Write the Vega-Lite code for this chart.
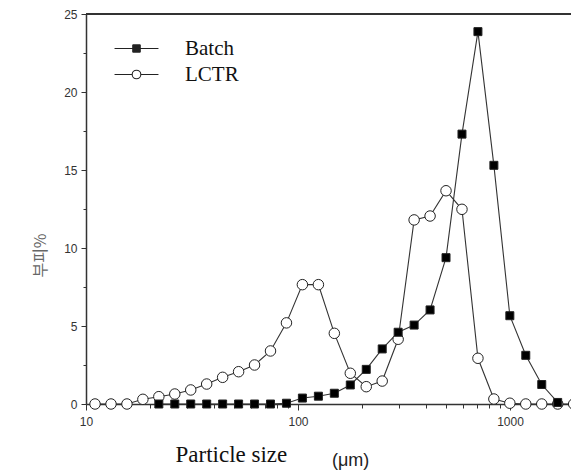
{
  "$schema": "https://vega.github.io/schema/vega-lite/v6.json",
  "width": 485,
  "height": 390,
  "autosize": {"type": "none"},
  "padding": {"left": 86, "top": 14, "right": 0, "bottom": 66},
  "background": "white",
  "config": {
    "view": {"stroke": null},
    "axis": {
      "domainColor": "#333",
      "domainWidth": 1.5,
      "tickColor": "#333",
      "tickWidth": 1,
      "labelFont": "Liberation Sans",
      "labelFontSize": 12,
      "labelColor": "#333",
      "grid": false
    }
  },
  "title": {
    "text": "(μm)",
    "orient": "bottom",
    "anchor": "start",
    "frame": "group",
    "dx": 246,
    "offset": -14,
    "font": "Liberation Sans",
    "fontSize": 18,
    "fontWeight": "normal",
    "color": "#222"
  },
  "data": {
    "values": [
      {"series": "LCTR", "size": 11.03, "pct": 0},
      {"series": "LCTR", "size": 13.12, "pct": 0},
      {"series": "LCTR", "size": 15.6, "pct": 0},
      {"series": "LCTR", "size": 18.55, "pct": 0.3},
      {"series": "LCTR", "size": 22.06, "pct": 0.47},
      {"series": "LCTR", "size": 26.23, "pct": 0.64},
      {"series": "LCTR", "size": 31.19, "pct": 0.9},
      {"series": "LCTR", "size": 37.09, "pct": 1.28},
      {"series": "LCTR", "size": 44.11, "pct": 1.71},
      {"series": "LCTR", "size": 52.46, "pct": 2.07},
      {"series": "LCTR", "size": 62.38, "pct": 2.5},
      {"series": "LCTR", "size": 74.18, "pct": 3.4},
      {"series": "LCTR", "size": 88.22, "pct": 5.2},
      {"series": "LCTR", "size": 104.9, "pct": 7.65},
      {"series": "LCTR", "size": 124.8, "pct": 7.65},
      {"series": "LCTR", "size": 148.4, "pct": 4.53},
      {"series": "LCTR", "size": 176.5, "pct": 1.97},
      {"series": "LCTR", "size": 209.9, "pct": 1.11},
      {"series": "LCTR", "size": 249.6, "pct": 1.47},
      {"series": "LCTR", "size": 296.8, "pct": 4.15},
      {"series": "LCTR", "size": 353.0, "pct": 11.8},
      {"series": "LCTR", "size": 419.8, "pct": 12.05},
      {"series": "LCTR", "size": 499.2, "pct": 13.67},
      {"series": "LCTR", "size": 593.6, "pct": 12.48},
      {"series": "LCTR", "size": 706.0, "pct": 2.93},
      {"series": "LCTR", "size": 839.5, "pct": 0.32},
      {"series": "LCTR", "size": 998.4, "pct": 0.05},
      {"series": "LCTR", "size": 1187, "pct": 0},
      {"series": "LCTR", "size": 1412, "pct": 0},
      {"series": "LCTR", "size": 1679, "pct": 0},
      {"series": "LCTR", "size": 1997, "pct": 0},
      {"series": "Batch", "size": 22.06, "pct": 0},
      {"series": "Batch", "size": 26.23, "pct": 0},
      {"series": "Batch", "size": 31.19, "pct": 0},
      {"series": "Batch", "size": 37.09, "pct": 0},
      {"series": "Batch", "size": 44.11, "pct": 0},
      {"series": "Batch", "size": 52.46, "pct": 0},
      {"series": "Batch", "size": 62.38, "pct": 0},
      {"series": "Batch", "size": 74.18, "pct": 0},
      {"series": "Batch", "size": 88.22, "pct": 0.05},
      {"series": "Batch", "size": 104.9, "pct": 0.38},
      {"series": "Batch", "size": 124.8, "pct": 0.5},
      {"series": "Batch", "size": 148.4, "pct": 0.69},
      {"series": "Batch", "size": 176.5, "pct": 1.22},
      {"series": "Batch", "size": 209.9, "pct": 2.22},
      {"series": "Batch", "size": 249.6, "pct": 3.53},
      {"series": "Batch", "size": 296.8, "pct": 4.6},
      {"series": "Batch", "size": 353.0, "pct": 5.06},
      {"series": "Batch", "size": 419.8, "pct": 6.03},
      {"series": "Batch", "size": 499.2, "pct": 9.38},
      {"series": "Batch", "size": 593.6, "pct": 17.3},
      {"series": "Batch", "size": 706.0, "pct": 23.87},
      {"series": "Batch", "size": 839.5, "pct": 15.3},
      {"series": "Batch", "size": 998.4, "pct": 5.66},
      {"series": "Batch", "size": 1187, "pct": 3.12},
      {"series": "Batch", "size": 1412, "pct": 1.25},
      {"series": "Batch", "size": 1679, "pct": 0.1}
    ]
  },
  "encoding": {
    "x": {
      "field": "size",
      "type": "quantitative",
      "scale": {"type": "log", "domain": [10, 1940], "nice": false},
      "axis": {
        "values": [10, 20, 30, 40, 50, 60, 70, 80, 90, 100, 200, 300, 400, 500, 600, 700, 800, 900, 1000],
        "labelExpr": "(datum.value == 10 || datum.value == 100 || datum.value == 1000) ? format(datum.value, 'd') : ''",
        "tickSize": {"condition": {"test": "datum.value == 10 || datum.value == 100 || datum.value == 1000", "value": 6}, "value": 4},
        "labelPadding": 6,
        "labelFlush": false,
        "labelOverlap": false,
        "title": "Particle size",
        "titleFont": "Liberation Serif",
        "titleFontSize": 23,
        "titleFontWeight": "normal",
        "titleColor": "#111",
        "titleAnchor": "start",
        "titleAlign": "left",
        "titleX": 89,
        "titleY": 57,
        "titleBaseline": "alphabetic"
      }
    },
    "y": {
      "field": "pct",
      "type": "quantitative",
      "scale": {"domain": [0, 25], "nice": false},
      "axis": {
        "values": [0, 2.5, 5, 7.5, 10, 12.5, 15, 17.5, 20, 22.5, 25],
        "labelExpr": "datum.value % 5 == 0 ? format(datum.value, 'd') : ''",
        "tickSize": {"condition": {"test": "datum.value % 5 == 0", "value": 5}, "value": 3},
        "labelPadding": 4,
        "labelOverlap": false,
        "title": "부피%",
        "titleFont": "Noto Sans CJK KR",
        "titleFontSize": 16,
        "titleFontWeight": "normal",
        "titleColor": "#666",
        "titleX": -46,
        "titleY": 241,
        "titleAlign": "center",
        "titleBaseline": "middle"
      }
    }
  },
  "layer": [
    {
      "mark": {"type": "rule", "color": "#333", "strokeWidth": 1.5},
      "encoding": {"y": {"datum": 25}, "x": {}}
    },
    {
      "mark": {"type": "line", "color": "#333", "strokeWidth": 1.1},
      "encoding": {"detail": {"field": "series"}}
    },
    {
      "mark": {"type": "point", "filled": false, "stroke": "#222", "strokeWidth": 1, "opacity": 1},
      "encoding": {
        "shape": {"field": "series", "scale": {"domain": ["Batch", "LCTR"], "range": ["square", "circle"]}, "legend": null},
        "fill": {"field": "series", "scale": {"domain": ["Batch", "LCTR"], "range": ["#000", "#fff"]}, "legend": null},
        "size": {"field": "series", "scale": {"domain": ["Batch", "LCTR"], "range": [64, 110]}, "legend": null}
      }
    },
    {
      "mark": {"type": "point", "filled": false, "opacity": 0},
      "encoding": {
        "shape": {
          "field": "series",
          "scale": {"domain": ["Batch", "LCTR"], "range": ["M-2.44,0H2.44M-0.42,-0.42H0.42M-0.42,-0.31H0.42M-0.42,-0.2H0.42M-0.42,-0.09H0.42M-0.42,0.02H0.42M-0.42,0.13H0.42M-0.42,0.24H0.42M-0.42,0.35H0.42M-0.42,0.42H0.42M-0.42,-0.42V0.42M0.42,-0.42V0.42", "M-2.44,0H-0.48M0.48,0H2.44M0.48,0A0.48,0.48,0,1,1,-0.48,0A0.48,0.48,0,1,1,0.48,0Z"]},
          "legend": {
            "title": null,
            "orient": "none",
            "legendX": 40,
            "legendY": 24,
            "padding": 0,
            "symbolSize": 324,
            "symbolStrokeWidth": 1.1,
            "symbolStrokeColor": "#222",
            "symbolFillColor": "transparent",
            "symbolOpacity": 1,
            "labelOffset": 38,
            "labelFont": "Liberation Serif",
            "labelFontSize": 21,
            "labelColor": "#111",
            "rowPadding": 4
          }
        }
      }
    }
  ],
  "resolve": {"scale": {"shape": "independent", "fill": "independent", "size": "independent"}}
}
